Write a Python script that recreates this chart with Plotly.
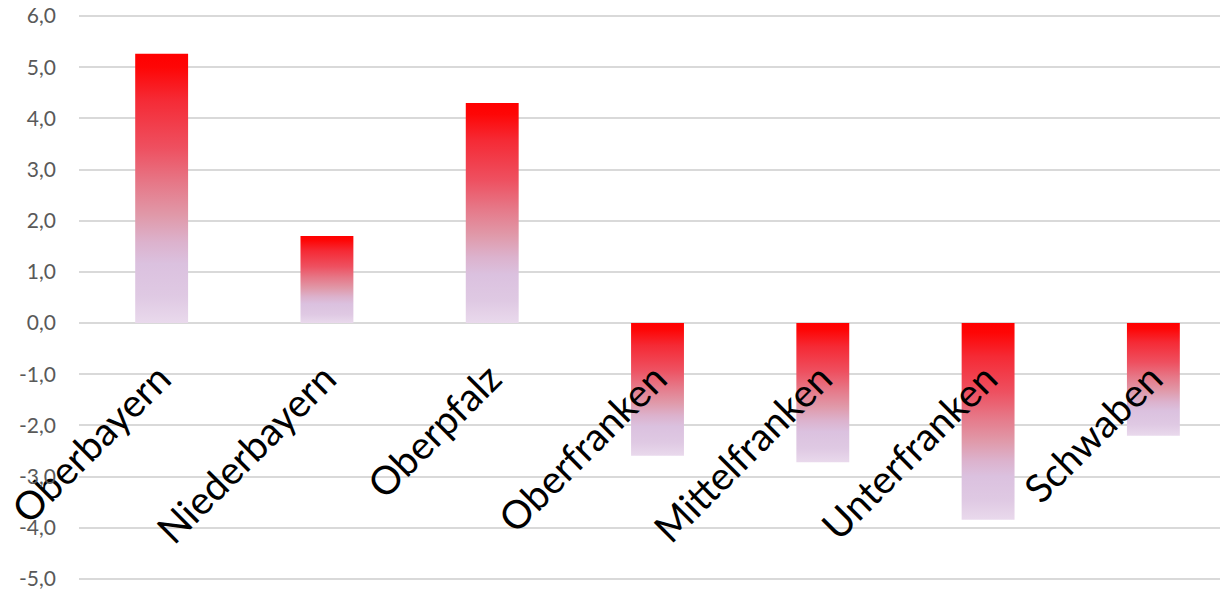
import plotly.graph_objects as go

categories = ["Oberbayern", "Niederbayern", "Oberpfalz", "Oberfranken",
              "Mittelfranken", "Unterfranken", "Schwaben"]
values = [5.26, 1.70, 4.30, -2.59, -2.72, -3.84, -2.20]
y_tick_values = [-5, -4, -3, -2, -1, 0, 1, 2, 3, 4, 5, 6]
y_tick_labels = ["-5,0", "-4,0", "-3,0", "-2,0", "-1,0", "0,0",
                 "1,0", "2,0", "3,0", "4,0", "5,0", "6,0"]

BAR_W = 0.32
Y_RANGE = [-5.0586, 6.0586]
gradient = [
    [0.0, "#E9D9EC"],
    [0.10, "#DFC9E3"],
    [0.22, "#DBC1DF"],
    [0.30, "#DCB2CD"],
    [0.40, "#E099A9"],
    [0.52, "#E67888"],
    [0.65, "#EE5060"],
    [0.83, "#F52A35"],
    [0.95, "#FE0606"],
    [1.0, "#FF0000"],
]

fig = go.Figure()
for i, (cat, v) in enumerate(zip(categories, values)):
    lo, hi = min(0, v), max(0, v)
    fig.add_trace(go.Scatter(
        x=[i - BAR_W / 2, i + BAR_W / 2, i + BAR_W / 2, i - BAR_W / 2, i - BAR_W / 2],
        y=[lo, lo, hi, hi, lo],
        mode="lines",
        line=dict(width=0, color="rgba(0,0,0,0)"),
        fill="toself",
        fillgradient=dict(type="vertical", colorscale=gradient, start=lo, stop=hi),
        name=cat,
        hoverinfo="skip",
        showlegend=False,
    ))

fig.update_layout(
    width=1220, height=590,
    margin=dict(l=79, r=0, t=13, b=8),
    paper_bgcolor="white", plot_bgcolor="white",
    font=dict(family="Lato", color="#595959"),
    xaxis=dict(
        range=[-0.5, 6.403],
        tickvals=list(range(len(categories))),
        ticktext=categories,
        tickangle=-45,
        tickfont=dict(size=39, color="black", family="Lato"),
        showgrid=False, zeroline=False, showline=False,
        anchor="free", position=(0 - Y_RANGE[0]) / (Y_RANGE[1] - Y_RANGE[0]),
        ticks="", ticklabelstandoff=24, ticklabelshift=-2,
        ticklabeloverflow="allow",
        automargin=False,
    ),
    yaxis=dict(
        range=Y_RANGE,
        tickvals=y_tick_values,
        ticktext=y_tick_labels,
        tickfont=dict(size=21, color="#595959", family="Lato"),
        showgrid=True, gridcolor="#D9D9D9", gridwidth=1.6,
        zeroline=False, showline=False,
        ticks="", ticklabelstandoff=22,
        ticklabeloverflow="allow",
        automargin=False,
    ),
)

fig.write_html(
    "out.html",
    config={"displayModeBar": False},
    post_script="document.body.style.margin='0';document.body.style.overflow='hidden';",
)
